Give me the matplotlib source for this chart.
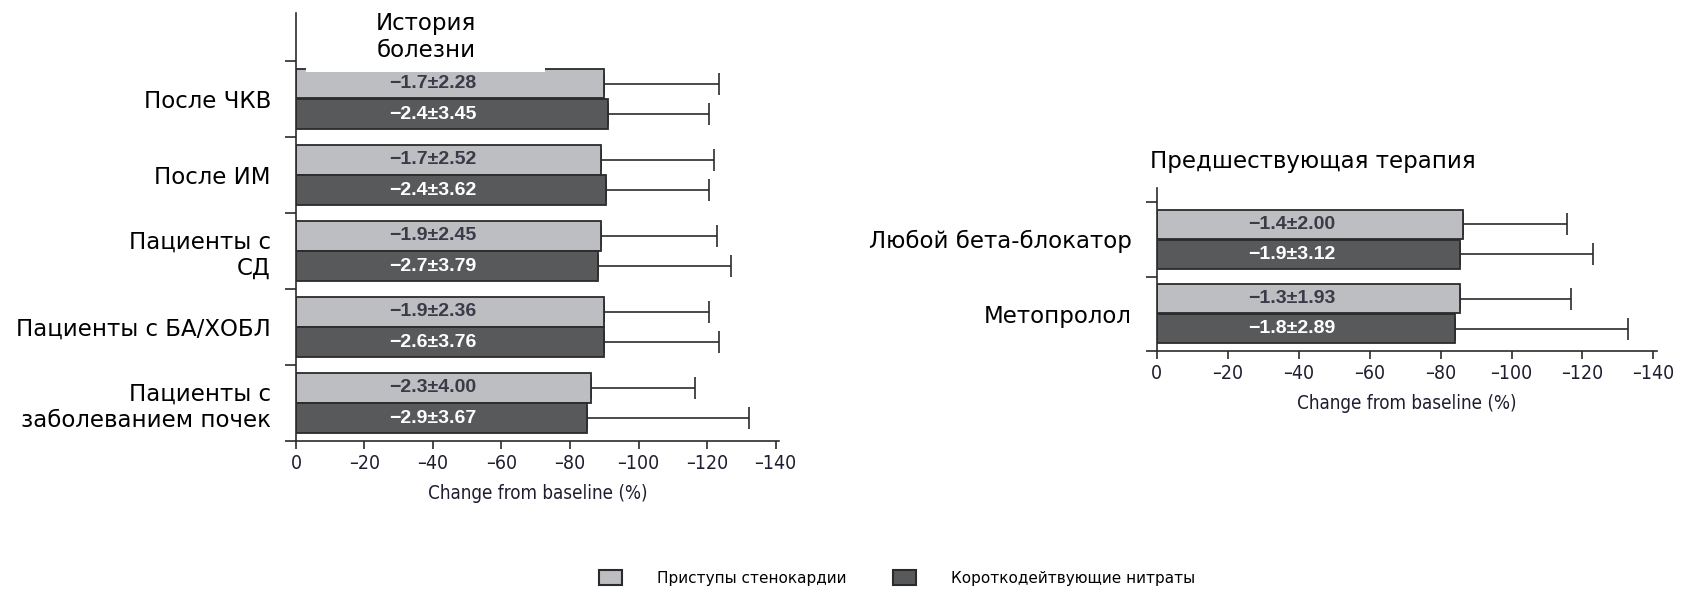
import numpy as np
import matplotlib.pyplot as plt
from matplotlib.patches import Patch, Rectangle
from matplotlib.ticker import FuncFormatter

plt.rcParams['font.family'] = ['DejaVu Sans']

# История болезни
hist_labels = ['После ЧКВ', 'После ИМ', 'Пациенты с\nСД', 'Пациенты с БА/ХОБЛ',
               'Пациенты с\nзаболеванием почек']
hist_angina = [-89.8, -89.1, -89.1, -89.8, -86.1]
hist_angina_err = [33.8, 33.0, 33.8, 30.8, 30.4]
hist_nitr = [-91.1, -90.4, -88.3, -89.8, -84.9]
hist_nitr_err = [29.5, 30.2, 38.7, 33.8, 47.4]
hist_angina_txt = ['−1.7±2.28', '−1.7±2.52', '−1.9±2.45', '−1.9±2.36', '−2.3±4.00']
hist_nitr_txt = ['−2.4±3.45', '−2.4±3.62', '−2.7±3.79', '−2.6±3.76', '−2.9±3.67']

# Предшествующая терапия
ther_labels = ['Любой бета-блокатор', 'Метопролол']
ther_angina = [-86.2, -85.4]
ther_angina_err = [29.5, 31.5]
ther_nitr = [-85.4, -84.2]
ther_nitr_err = [37.7, 48.6]
ther_angina_txt = ['−1.4±2.00', '−1.3±1.93']
ther_nitr_txt = ['−1.9±3.12', '−1.8±2.89']

xticks = [0, -20, -40, -60, -80, -100, -120, -140]

LIGHT = '#bdbec2'
DARK = '#58595b'
EDGE = '#2b2b2b'


def draw_panel(ax, labels, ang, ang_err, nit, nit_err, ang_txt, nit_txt, top, txt_x):
    y = np.arange(len(labels))
    h = 0.39
    zeros = np.zeros(len(y))
    ax.barh(y - 0.2, ang, height=h, color=LIGHT, edgecolor=EDGE, linewidth=1.3, zorder=2)
    ax.barh(y + 0.2, nit, height=h, color=DARK, edgecolor=EDGE, linewidth=1.3, zorder=2)
    ax.errorbar(ang, y - 0.2, xerr=[ang_err, zeros], fmt='none', ecolor=EDGE,
                elinewidth=1.2, capsize=8, capthick=1.2, zorder=1)
    ax.errorbar(nit, y + 0.2, xerr=[nit_err, zeros], fmt='none', ecolor=EDGE,
                elinewidth=1.2, capsize=8, capthick=1.2, zorder=1)
    for yi, s in zip(y, ang_txt):
        ax.text(txt_x, yi - 0.2, s, ha='center', va='center', color='#3a3a48',
                fontsize=14, fontweight='bold', family='Liberation Sans',
                fontstretch='condensed', zorder=3)
    for yi, s in zip(y, nit_txt):
        ax.text(txt_x, yi + 0.2, s, ha='center', va='center', color='white',
                fontsize=14, fontweight='bold', family='Liberation Sans',
                fontstretch='condensed', zorder=3)

    ax.set_xlim(0, -141)
    ax.set_ylim(len(labels) - 0.5, top)
    ax.set_yticks(y)
    ax.set_yticklabels(labels, fontsize=16.5)
    ax.set_yticks(np.arange(len(labels) + 1) - 0.5, minor=True)
    ax.tick_params(axis='y', which='major', length=0, pad=18)
    ax.tick_params(axis='y', which='minor', length=8, width=1.2, color=EDGE)
    ax.set_xticks(xticks)
    ax.xaxis.set_major_formatter(FuncFormatter(lambda v, _: f'{v:.0f}'.replace('-', '–')))
    ax.tick_params(axis='x', length=6, width=1.2, color=EDGE, labelsize=14, labelcolor='#1e1e30')
    for lab in ax.get_xticklabels():
        lab.set_fontstretch('condensed')
    ax.set_xlabel('Change from baseline (%)', fontsize=13.5, color='#1e1e30', labelpad=8,
                  fontstretch='condensed')
    for side in ['top', 'right']:
        ax.spines[side].set_visible(False)
    for side in ['left', 'bottom']:
        ax.spines[side].set_linewidth(1.2)
        ax.spines[side].set_color(EDGE)


fig = plt.figure(figsize=(16.96, 5.89), dpi=100)
ax1 = fig.add_axes([0.1745, 0.2513, 0.2848, 0.7267])
ax2 = fig.add_axes([0.682, 0.404, 0.295, 0.2767])

draw_panel(ax1, hist_labels, hist_angina, hist_angina_err, hist_nitr, hist_nitr_err,
           hist_angina_txt, hist_nitr_txt, -1.13, -40)
draw_panel(ax2, ther_labels, ther_angina, ther_angina_err, ther_nitr, ther_nitr_err,
           ther_angina_txt, ther_nitr_txt, -0.687, -38)

# white plate under the left panel heading
ax1.add_patch(Rectangle((-2.9, -1.13), -69.8, 0.775, facecolor='white', edgecolor='none', zorder=4))
ax1.text(-38, -0.81, 'История\nболезни', ha='center', va='center', fontsize=16.5,
         linespacing=1.2, zorder=5)
ax2.text(-44, -1.05, 'Предшествующая терапия', ha='center', va='center', fontsize=16.5)

handles = [Patch(facecolor=LIGHT, edgecolor=EDGE, linewidth=1.5, label='Приступы стенокардии'),
           Patch(facecolor=DARK, edgecolor=EDGE, linewidth=1.5, label='Короткодейтвующие нитраты')]
fig.legend(handles=handles, loc='center', bbox_to_anchor=(0.529, 0.019), ncol=2, frameon=False,
           fontsize=11, handlelength=1.5, handleheight=1.1, handletextpad=2.3, columnspacing=3.0)

fig.savefig('out.png', dpi=100)
